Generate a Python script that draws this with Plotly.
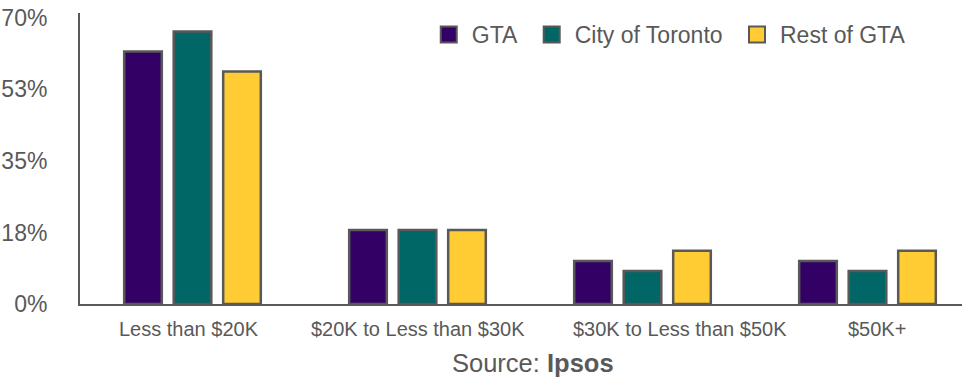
import plotly.graph_objects as go

categories = ["Less than $20K", "$20K to Less than $30K", "$30K to Less than $50K", "$50K+"]
gta = [61.8, 18.1, 10.5, 10.5]
city_of_toronto = [66.7, 18.1, 8.1, 8.1]
rest_of_gta = [56.9, 18.1, 13.0, 13.0]

tick_vals = [0, 17.5, 35, 52.5, 70]
tick_text = ["0%", "18%", "35%", "53%", "70%"]

# horizontal nudges (px) for the category labels under each group
label_shift = [-4, 0, 37, 9]

series = [
    ("GTA", gta, "#330066"),
    ("City of Toronto", city_of_toronto, "#006666"),
    ("Rest of GTA", rest_of_gta, "#FFCC33"),
]

edge = "#595959"
text_col = "#595959"
font_family = "Liberation Sans, Arial, sans-serif"

fig = go.Figure()
for name, vals, col in series:
    fig.add_trace(go.Bar(
        x=categories, y=vals, name=name, showlegend=False,
        marker=dict(color=col, line=dict(color=edge, width=2.5)),
    ))
# legend entries drawn as larger square swatches (a trailing no-break space widens the gap)
for name, vals, col in series:
    fig.add_trace(go.Scatter(
        x=[None], y=[None], mode="markers", name=name + "\u00a0",
        marker=dict(symbol="square", size=16, color=col, line=dict(color=edge, width=2)),
    ))

annotations = [
    dict(x=cat, y=0, xref="x", yref="paper", text=cat, showarrow=False,
         xanchor="center", yanchor="middle", yshift=-25, xshift=dx,
         font=dict(size=20, color=text_col))
    for cat, dx in zip(categories, label_shift)
]
annotations.append(dict(
    x=0.514, y=0, xref="paper", yref="paper", text="Source: <b>Ipsos</b>",
    showarrow=False, xanchor="center", yanchor="middle", yshift=-59,
    font=dict(size=25.5, color=text_col),
))

fig.update_layout(
    width=962, height=379,
    margin=dict(l=80, r=0, t=13, b=75),
    paper_bgcolor="white", plot_bgcolor="white",
    font=dict(family=font_family, color=text_col, size=20),
    barmode="group", bargap=0.34, bargroupgap=0.24,
    legend=dict(
        orientation="h", x=0.392, y=1.0, xanchor="left", yanchor="top",
        font=dict(size=23, color=text_col), itemwidth=36,
        bgcolor="rgba(0,0,0,0)",
    ),
    annotations=annotations,
    xaxis=dict(
        range=[-0.5, 3.42], showgrid=False, zeroline=False,
        showline=True, linecolor=edge, linewidth=2,
        ticks="", showticklabels=False,
    ),
    yaxis=dict(
        range=[0, 71.2], showgrid=False, zeroline=False,
        showline=True, linecolor=edge, linewidth=2,
        tickvals=tick_vals, ticktext=tick_text, ticks="",
        tickfont=dict(size=23, color=text_col), ticklabelstandoff=26,
    ),
)

fig.write_html("out.html")
